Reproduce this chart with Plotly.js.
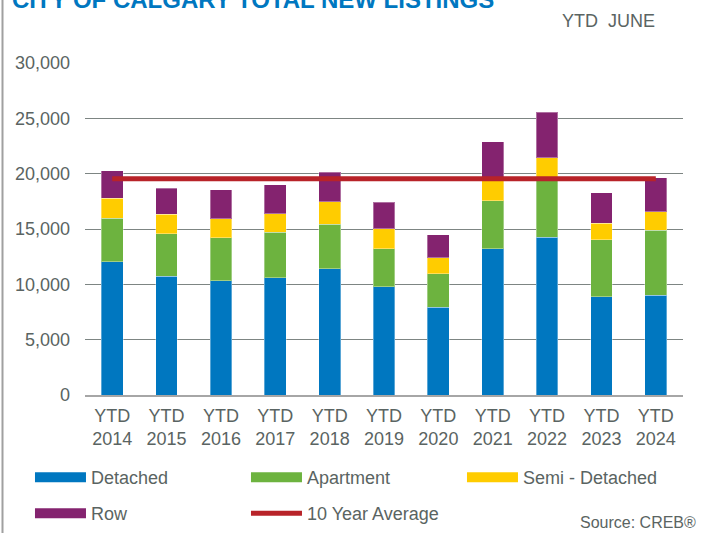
<!DOCTYPE html>
<html><head><meta charset="utf-8">
<script src="https://cdn.plot.ly/plotly-3.0.1.min.js"></script>
<style>html,body{margin:0;padding:0;background:#fff}#chart{width:705px;height:533px}</style>
</head><body><div id="chart"></div>
<script>
const years = ['2014','2015','2016','2017','2018','2019','2020','2021','2022','2023','2024'];
const tickLabels = ['YTD<br>2014','YTD<br>2015','YTD<br>2016','YTD<br>2017','YTD<br>2018','YTD<br>2019','YTD<br>2020','YTD<br>2021','YTD<br>2022','YTD<br>2023','YTD<br>2024'];
const detached     = [12050, 10750, 10330, 10600, 11420, 9800, 7950, 13220, 14250, 8890, 9010];
const apartment    = [3940, 3830, 3890, 4100, 4000, 3420, 2990, 4340, 5180, 5150, 5870];
const semiDetached = [1780, 1750, 1710, 1690, 2050, 1810, 1440, 1870, 1990, 1500, 1660];
const row          = [2500, 2350, 2600, 2590, 2650, 2380, 2110, 3460, 4130, 2740, 3100];
const tenYearAverage = [19530, 19530, 19530, 19530, 19530, 19530, 19530, 19530, 19530, 19530, 19530];

const C = {det:'#0077C0', apt:'#6DB33F', semi:'#FFCC00', row:'#84236F', avg:'#B82329', txt:'#5a6462'};
const edge = {color:'rgba(255,255,255,0.35)', width:1};

function barTrace(name, y, color){
  return {type:'bar', name:name, x:years, y:y, marker:{color:color, line:edge}, showlegend:false, hoverinfo:'y+name'};
}
function legendDummy(name, color, legend){
  return {type:'scatter', mode:'lines', name:name, x:[years[0]], y:[null], line:{color:color, width:10}, legend:legend, hoverinfo:'skip'};
}

const data = [
  barTrace('Detached', detached, C.det),
  barTrace('Apartment', apartment, C.apt),
  barTrace('Semi - Detached', semiDetached, C.semi),
  barTrace('Row', row, C.row),
  legendDummy('Detached', C.det, 'legend'),
  legendDummy('Apartment', C.apt, 'legend'),
  legendDummy('Semi - Detached', C.semi, 'legend'),
  legendDummy('Row', C.row, 'legend2'),
  {type:'scatter', mode:'lines', name:'10 Year Average', x:years, y:tenYearAverage, line:{color:C.avg, width:5}, legend:'legend2'}
];

const legendBase = {orientation:'h', xanchor:'left', yanchor:'top', x:-0.092, itemwidth:51, entrywidth:150,
  font:{family:'Liberation Sans, Arial, sans-serif', size:18, color:C.txt}, bgcolor:'rgba(0,0,0,0)', traceorder:'normal'};

const layout = {
  width:705, height:533,
  margin:{l:85, r:22, t:63, b:138, autoexpand:false},
  paper_bgcolor:'#fff', plot_bgcolor:'#fff',
  font:{family:'Liberation Sans, Arial, sans-serif', size:18, color:C.txt},
  barmode:'stack', bargap:0.6,
  title:{text:'CITY OF CALGARY TOTAL NEW LISTINGS', font:{family:'Liberation Sans, Arial, sans-serif', size:24, color:'#0077C0', weight:'bold'},
    xref:'container', x:12/705, xanchor:'left', yref:'container', y:1, yanchor:'middle'},
  xaxis:{type:'category', tickvals:years, ticktext:tickLabels, showgrid:false, showline:true, linecolor:'#a6a6a6', linewidth:2,
    ticks:'', ticklabelstandoff:3, tickfont:{size:18, color:C.txt}, fixedrange:true},
  yaxis:{range:[0,30000], dtick:5000, tickformat:',d', showgrid:true, gridcolor:'#7d8583', gridwidth:1, zeroline:false,
    ticks:'', ticklabelstandoff:14, tickfont:{size:18, color:C.txt}, fixedrange:true},
  legend:Object.assign({}, legendBase, {y:-0.193}),
  legend2:Object.assign({}, legendBase, {y:-0.301}),
  annotations:[
    {text:'YTD\u00a0 JUNE', xref:'paper', yref:'paper', x:(657-85)/598, y:(395-21)/332, xanchor:'right', yanchor:'middle', showarrow:false, font:{size:18, color:C.txt}},
    {text:'Source: CREB®', xref:'paper', yref:'paper', x:(698-85)/598, y:(395-522)/332, xanchor:'right', yanchor:'middle', showarrow:false, font:{size:16, color:C.txt}}
  ],
  shapes:[
    {type:'line', xref:'paper', yref:'paper', x0:(2.5-85)/598, x1:(2.5-85)/598, y0:-0.5, y1:1.3, line:{color:'#a0a0a0', width:2}}
  ],
  showlegend:true
};

Plotly.newPlot('chart', data, layout, {displayModeBar:false, staticPlot:true});
</script>
</body></html>
